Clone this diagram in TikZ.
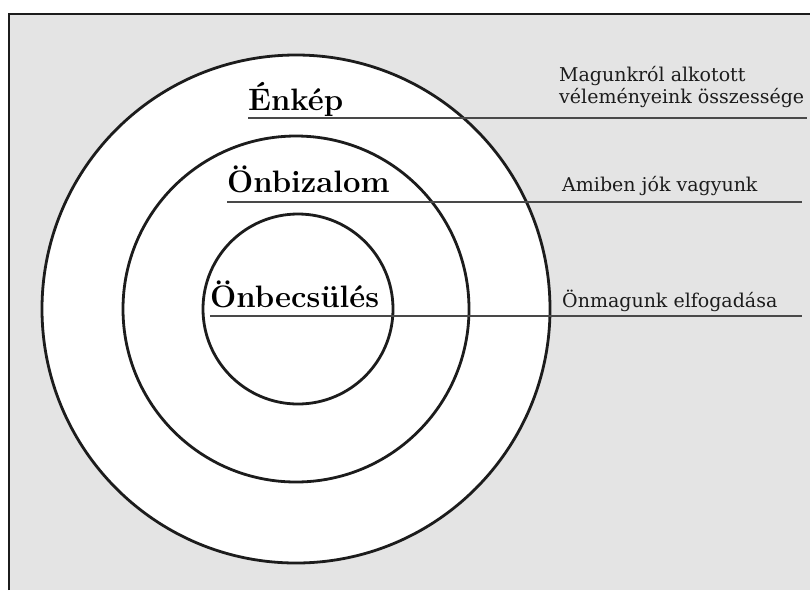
\documentclass[tikz,border=0pt]{standalone}
\usepackage{fontspec}
\usepackage{xcolor}
\usetikzlibrary{positioning}
\newfontfamily\notefont{DejaVu Serif}
\definecolor{paper}{RGB}{228,228,228}
\definecolor{ink}{RGB}{28,28,28}

\begin{document}
\begin{tikzpicture}[x=1pt,y=-1pt,
  ring/.style={draw=ink,line width=2.8pt,fill=white},
  rule/.style={draw=ink!80,line width=1.5pt},
  title/.style={anchor=base west,inner sep=0pt,font=\fontsize{31}{36}\selectfont\bfseries},
  note/.style={anchor=base west,inner sep=0pt,text=ink,font=\notefont\fontsize{19}{23}\selectfont}]
  \useasboundingbox (0,0) rectangle (810,590);
  \fill[white] (0,0) rectangle (810,590);
  \fill[paper] (9,14) rectangle (810,590);
  \draw[ink,line width=1.6pt] (9,590) -- (9,14) -- (810,14);

  \coordinate (c) at (296,309);
  \draw[ring] (c) circle[radius=254pt];
  \draw[ring] (c) circle[radius=173pt];
  \draw[ring] (298,309) circle[radius=95pt];

  \coordinate (l1) at (248,118);
  \coordinate (r1) at (807,118);
  \coordinate (l2) at (227,202);
  \coordinate (r2) at (802,202);
  \coordinate (l3) at (210,316);
  \coordinate (r3) at (802,316);
  \draw[rule] (l1) -- (r1);
  \draw[rule] (l2) -- (r2);
  \draw[rule] (l3) -- (r3);

  \node[title] (enkep) at (248,110) {Énkép};
  \node[title] (onbizalom) at (227,192) {Önbizalom};
  \node[title] (onbecsules) at (210,307) {Önbecsülés};

  \node[note] (vel1) at (559,81) {Magunkról alkotott};
  \node[note] (vel2) at (559,103) {véleményeink összessége};
  \node[note] (jok) at (562,191) {Amiben jók vagyunk};
  \node[note] (elf) at (562,307) {Önmagunk elfogadása};
\end{tikzpicture}
\end{document}
